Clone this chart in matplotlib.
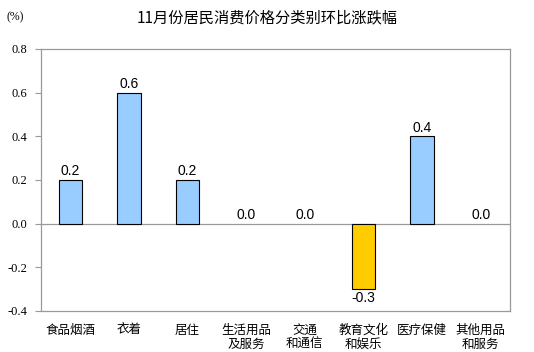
import numpy as np
import matplotlib.pyplot as plt

plt.rcParams['font.family'] = ['Noto Sans CJK SC', 'DejaVu Sans']

categories = ["食品烟酒", "衣着", "居住", "生活用品\n及服务", "交通\n和通信",
              "教育文化\n和娱乐", "医疗保健", "其他用品\n和服务"]
values = [0.2, 0.6, 0.2, 0.0, 0.0, -0.3, 0.4, 0.0]
yticks = [-0.4, -0.2, 0.0, 0.2, 0.4, 0.6, 0.8]

fig = plt.figure(figsize=(5.34, 3.52), dpi=100)
ax = fig.add_axes([0.0768, 0.1165, 0.8782, 0.7445])

x = np.arange(len(categories))
colors = ["#FFCC00" if v < 0 else "#99CCFF" for v in values]
for xi, v, c in zip(x, values, colors):
    if v != 0:
        ax.bar(xi, v, width=0.4, color=c, edgecolor="black", linewidth=0.8, zorder=3)
    if v < 0:
        ax.text(xi, v - 0.008, f"{v:.1f}", ha="center", va="top", fontsize=10,
                family="Liberation Sans")
    else:
        ax.text(xi, v + 0.008, f"{v:.1f}", ha="center", va="bottom", fontsize=10,
                family="Liberation Sans")

ax.axhline(0, color="#999999", linewidth=0.9, zorder=2)
ax.set_xlim(-0.5, len(categories) - 0.5)
ax.set_ylim(-0.4, 0.8)
ax.set_yticks(yticks)
ax.set_yticklabels([f"{t:.1f}" for t in yticks], family="Liberation Serif", fontsize=9)
ax.set_xticks(x)
ax.set_xticklabels(categories, fontsize=9, linespacing=1.1, va="top")
ax.tick_params(axis="x", length=0, pad=9)
ax.tick_params(axis="y", length=4, color="#999999", pad=6, direction="out")
for s in ax.spines.values():
    s.set_color("#999999")
    s.set_linewidth(0.9)

fig.text(0.5, 0.948, "11月份居民消费价格分类别环比涨跌幅", ha="center", va="center", fontsize=11)
fig.text(0.028, 0.952, "(%)", ha="center", va="center", fontsize=8.5, family="Liberation Serif")

fig.savefig("out.png", dpi=100)
